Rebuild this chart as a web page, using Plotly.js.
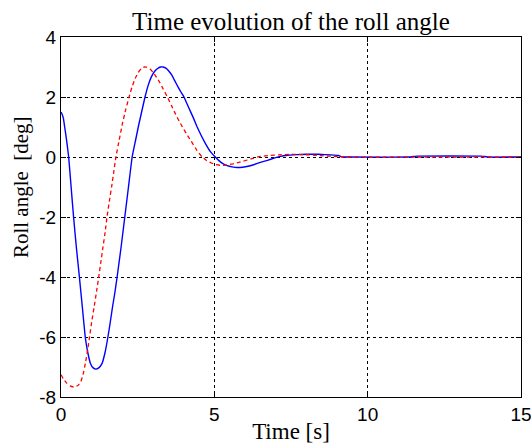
<!DOCTYPE html>
<html>
<head>
<meta charset="utf-8">
<script src="https://cdn.plot.ly/plotly-3.0.1.min.js"></script>
<style>html,body{margin:0;padding:0;background:#fff;}#chart{width:531px;height:444px;}</style>
</head>
<body>
<div id="chart"></div>
<script>
// Blue solid series (time [s], roll angle [deg])
const blueT = [0.00,0.04,0.08,0.12,0.16,0.20,0.25,0.33,0.41,0.50,0.60,0.70,0.79,0.87,0.96,1.05,1.14,1.23,1.34,1.44,1.53,1.60,1.68,1.76,1.83,1.96,2.08,2.20,2.32,2.43,2.53,2.64,2.74,2.84,2.95,3.05,3.15,3.25,3.33,3.42,3.52,3.62,3.72,3.82,3.92,4.01,4.12,4.22,4.33,4.44,4.58,4.72,4.87,5.03,5.15,5.28,5.42,5.58,5.75,5.92,6.10,6.30,6.50,6.73,6.95,7.15,7.40,7.70,8.00,8.40,8.80,9.05,9.15,9.40,11.4,11.6,13.7,13.9,15.0];
const blueY = [1.50,1.42,1.28,1.00,0.72,0.42,0.00,-1.00,-2.00,-3.00,-4.00,-5.05,-6.00,-6.50,-6.88,-7.03,-7.07,-7.03,-6.88,-6.50,-6.00,-5.55,-5.00,-4.50,-4.00,-3.00,-2.00,-1.00,0.00,0.55,1.05,1.55,2.00,2.38,2.68,2.85,2.95,3.00,3.00,2.96,2.86,2.72,2.52,2.33,2.15,2.00,1.75,1.52,1.27,1.00,0.70,0.43,0.18,0.00,-0.12,-0.22,-0.29,-0.33,-0.35,-0.34,-0.31,-0.25,-0.18,-0.11,-0.04,0.02,0.06,0.08,0.09,0.09,0.07,0.05,0.01,0.00,0.00,0.03,0.03,0.00,0.00];
// Red dashed series
const redT = [0.00,0.08,0.18,0.30,0.42,0.55,0.65,0.72,0.80,0.87,0.93,1.00,1.08,1.16,1.23,1.30,1.37,1.44,1.50,1.58,1.65,1.72,1.79,1.90,2.00,2.11,2.22,2.32,2.42,2.52,2.62,2.72,2.80,2.90,3.00,3.10,3.20,3.33,3.47,3.60,3.74,3.85,3.96,4.10,4.25,4.42,4.60,4.75,4.90,5.05,5.22,5.40,5.60,5.80,5.95,6.20,6.50,6.80,7.10,7.50,7.90,8.40,8.90,9.30,15.0];
const redY = [-7.26,-7.40,-7.53,-7.63,-7.67,-7.62,-7.48,-7.25,-6.85,-6.42,-6.00,-5.50,-5.00,-4.48,-4.00,-3.50,-3.00,-2.50,-2.00,-1.45,-1.00,-0.50,0.00,0.58,1.10,1.58,2.00,2.35,2.62,2.82,2.95,3.00,2.99,2.93,2.83,2.68,2.52,2.27,2.00,1.72,1.42,1.20,1.00,0.76,0.52,0.24,0.00,-0.12,-0.20,-0.25,-0.28,-0.27,-0.23,-0.18,-0.14,-0.06,0.02,0.05,0.07,0.09,0.08,0.05,0.02,0.00,0.00];
// Tick labels
const xTickVals = [0,5,10,15];
const xTickText = ['0','5','10','15'];
const yTickVals = [-8,-6,-4,-2,0,2,4];
const yTickText = ['-8','-6','-4','-2','0','2','4'];

const serif = 'Liberation Serif, Times New Roman, serif';
const traces = [
  {x: blueT, y: blueY, type:'scatter', mode:'lines', line:{color:'#0000ff', width:1.4, shape:'spline', smoothing:0.3}, hoverinfo:'skip'},
  {x: redT, y: redY, type:'scatter', mode:'lines', line:{color:'#ff0000', width:1.3, dash:'4px,3px', shape:'spline', smoothing:0.3}, hoverinfo:'skip'}
];
const axisCommon = {
  showline:true, linecolor:'#000', linewidth:1, mirror:'ticks',
  ticks:'inside', ticklen:5, tickcolor:'#000', tickwidth:1,
  showgrid:true, gridcolor:'#000', gridwidth:1, griddash:'3px,3px',
  zeroline:false, tickmode:'array', ticklabeloverflow:'allow',
  tickfont:{family:'Liberation Sans, Arial, sans-serif', size:19, color:'#000'}
};
const layout = {
  width:531, height:444,
  margin:{l:61, r:10, t:37, b:47, pad:0},
  paper_bgcolor:'#fff', plot_bgcolor:'#fff',
  showlegend:false,
  title:{text:'Time evolution of the roll angle', font:{family:serif, size:25, color:'#000'}, x:0.5, xref:'paper', xanchor:'center', y:0.953, yref:'container', yanchor:'middle'},
  xaxis:Object.assign({}, axisCommon, {range:[0,15], tickvals:xTickVals, ticktext:xTickText,
    title:{text:'Time [s]', font:{family:serif, size:23, color:'#000'}, standoff:0}}),
  yaxis:Object.assign({}, axisCommon, {range:[-8,4], tickvals:yTickVals, ticktext:yTickText}),
  annotations:[{text:'Roll angle  [deg]', textangle:-90, xref:'paper', yref:'paper', x:-0.087, y:0.583, xanchor:'center', yanchor:'middle', showarrow:false, font:{family:serif, size:21, color:'#000'}}]
};
Plotly.newPlot('chart', traces, layout, {staticPlot:true, displayModeBar:false});
</script>
</body>
</html>
